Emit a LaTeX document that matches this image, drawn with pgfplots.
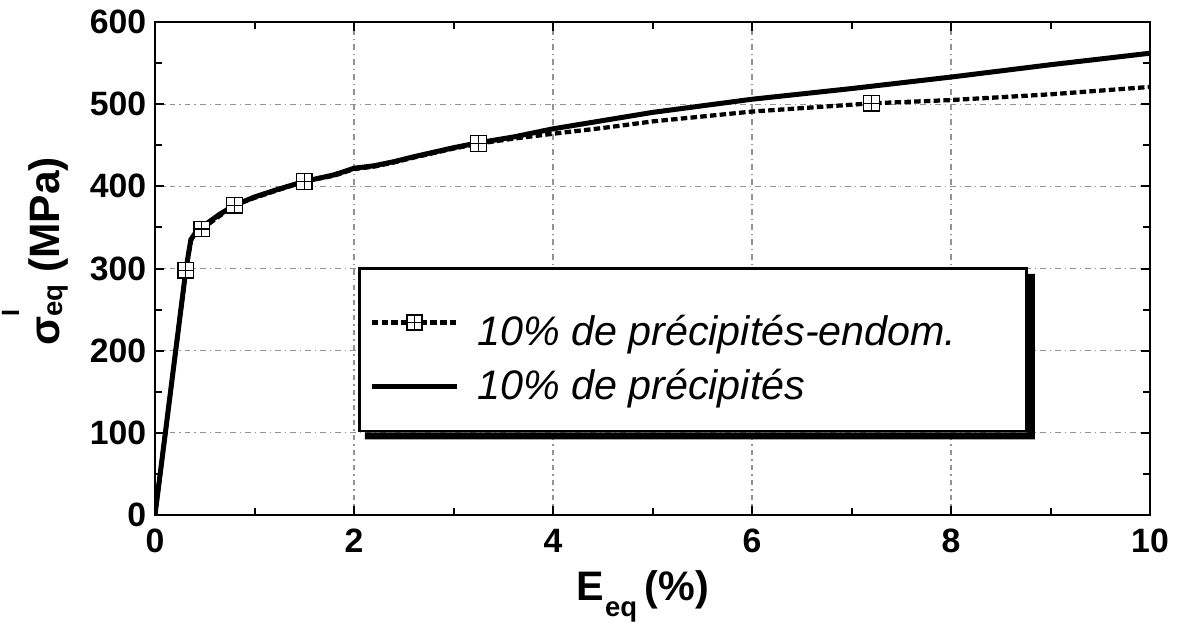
\documentclass[border=0pt]{standalone}
\usepackage{pgfplots}
\pgfplotsset{compat=1.18}
\usepackage{fontspec}
\setmainfont{Liberation Sans}
\pgfdeclareplotmark{sqplus}{%
 \pgfpathrectangle{\pgfpoint{-\pgfplotmarksize}{-\pgfplotmarksize}}{\pgfpoint{2\pgfplotmarksize}{2\pgfplotmarksize}}%
 \pgfusepathqfillstroke
 \pgfpathmoveto{\pgfpoint{-\pgfplotmarksize}{0pt}}\pgfpathlineto{\pgfpoint{\pgfplotmarksize}{0pt}}%
 \pgfpathmoveto{\pgfpoint{0pt}{-\pgfplotmarksize}}\pgfpathlineto{\pgfpoint{0pt}{\pgfplotmarksize}}%
 \pgfusepathqstroke}
\begin{document}
\begin{tikzpicture}
\useasboundingbox (-62pt,-42.8pt) rectangle (408.8pt,206pt);
\begin{axis}[
  scale only axis, width=398pt, height=197.2pt,
  xmin=0, xmax=10, ymin=0, ymax=600,
  xtick={0,2,...,10}, ytick={0,100,...,600},
  minor x tick num=1, minor y tick num=1,
  tick align=inside,
  major tick length=3.5pt, minor tick length=2.8pt,
  every tick/.style={black, line width=0.8pt},
  axis line style={line width=1pt},
  grid=major,
  major grid style={gray!85, line width=0.45pt, dash pattern=on 2.2pt off 1.6pt on 0.6pt off 1.6pt},
  /pgf/number format/assume math mode=true,
  ticklabel style={font=\bfseries\fontsize{13.5}{13.5}\selectfont},
  xticklabel style={yshift=-2pt},
  xlabel={E\kern0.5pt\raisebox{-6.5pt}{\fontsize{11}{11}\selectfont eq}\kern3pt(\%)},
  xlabel style={font=\bfseries\fontsize{16.5}{16.5}\selectfont, at={(axis description cs:0.49,-0.095)}, anchor=north},
  ylabel={σ\rlap{\raisebox{0.95em}{\fontsize{10}{10}\selectfont\rmfamily I}}\raisebox{-0.15ex}{\fontsize{11}{11}\selectfont eq} (MPa)},
  ylabel style={font=\bfseries\fontsize{17}{17}\selectfont, at={(axis description cs:-0.078,0.535)}, anchor=south},
  legend image code/.code={\draw[mark repeat=2,mark phase=2,#1] plot coordinates {(0cm,0cm) (0.6cm,0cm) (1.2cm,0cm)};},
  legend cell align=left,
  legend style={at={(axis cs:2.04,302)}, anchor=north west, name=leg,
    draw=black, line width=1.1pt, fill=white,
    font=\itshape\fontsize{16.5}{19}\selectfont,
    inner xsep=4pt, inner ysep=9pt, row sep=4pt,
    /tikz/every odd column/.append style={column sep=5pt}},
]
\addlegendimage{black, line width=1.7pt, dash pattern=on 2.6pt off 1.3pt, mark=sqplus, mark size=3pt, mark options={solid, line width=0.5pt, fill=white}}
\addlegendentry{\rule{0pt}{20pt}10\% de précipités-endom.\hspace*{22pt}}
\addlegendimage{black, line width=2pt}
\addlegendentry{10\% de précipités}
% solid curve
\addplot[black, line width=2pt, forget plot] coordinates {
(0,0) (0.31,298) (0.36,335) (0.42,346) (0.5,353) (0.65,366) (0.8,377) (1.0,387) (1.2,395) (1.5,406) (1.8,414) (2,422) (2.2,425) (2.4,430) (2.6,436) (3,447) (3.25,453) (3.6,460) (4,470) (4.5,480) (5,490) (6,506) (7,519) (8,533) (9,548) (10,562)
};
% dashed curve
\addplot[black, line width=1.7pt, dash pattern=on 2.6pt off 1.3pt, forget plot] coordinates {
(0,0) (0.31,298) (0.36,334) (0.42,345) (0.47,348) (0.65,364) (0.8,377) (1.0,386) (1.2,394) (1.5,406) (1.8,413) (2,421) (2.2,424) (2.4,429) (2.6,435) (3,446) (3.25,452) (3.6,458) (4,464) (4.5,471) (5,479) (6,491) (7.2,501) (8,505) (9,512) (10,521)
};
% markers on dashed curve
\addplot[only marks, mark=sqplus, mark size=3.1pt, mark options={solid, line width=0.5pt, fill=white}, forget plot] coordinates {
(0.31,298) (0.47,348) (0.8,377) (1.5,406) (3.25,452) (7.2,501)
};
\end{axis}
\fill[black] ([yshift=-2.8pt]leg.north east) -- ([xshift=2.8pt,yshift=-2.8pt]leg.north east)
  -- ([xshift=2.8pt,yshift=-2.8pt]leg.south east) -- ([xshift=2.8pt,yshift=-2.8pt]leg.south west)
  -- ([xshift=2.8pt]leg.south west) -- (leg.south east) -- cycle;
\end{tikzpicture}
\end{document}
